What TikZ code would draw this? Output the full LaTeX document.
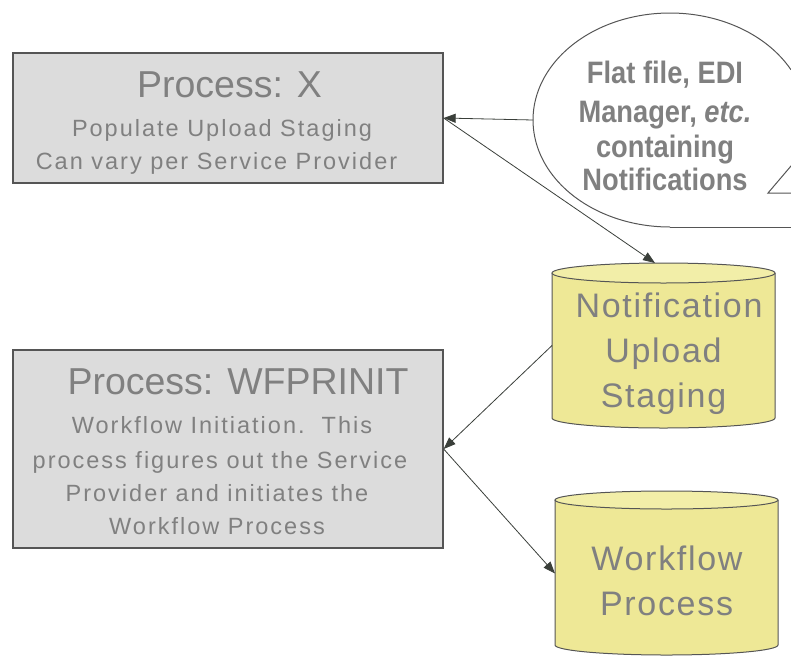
\documentclass[tikz,border=0pt]{standalone}
\usepackage{fontspec}
\setmainfont{Liberation Sans}
\newfontfamily\subfont{Liberation Sans}[LetterSpace=8.5]
\newfontfamily\cylfont{Liberation Sans}[LetterSpace=5]
\newfontfamily\callfont{Liberation Sans}[FakeStretch=0.88]
\usetikzlibrary{arrows.meta,calc,shapes.geometric}
\definecolor{boxfill}{HTML}{DCDCDC}
\definecolor{edgec}{HTML}{555555}
\definecolor{txt}{HTML}{808080}
\definecolor{cylfill}{HTML}{EEE896}
\definecolor{cyltop}{HTML}{F2EEA8}
\definecolor{arr}{HTML}{3A3F3A}
\begin{document}
\begin{tikzpicture}[x=1pt,y=-1pt,
  procbox/.style={draw=edgec, line width=1.3pt, fill=boxfill, inner sep=0pt},
  holder/.style={inner sep=0pt, outer sep=0pt},
  title/.style={anchor=base, inner sep=0pt, text=txt, font=\fontsize{37.5}{40}\selectfont},
  sub/.style={anchor=base, inner sep=0pt, text=txt, font=\subfont\fontsize{23.5}{26}\selectfont},
  cyltext/.style={anchor=base, inner sep=0pt, text=txt, font=\cylfont\fontsize{34}{38}\selectfont},
  calltext/.style={anchor=base, inner sep=0pt, text=txt, font=\callfont\bfseries\fontsize{31}{34}\selectfont},
  conn/.style={draw=arr, line width=0.8pt, -{Triangle[length=12pt,width=9pt]}},
  outline/.style={draw=edgec, line width=1pt}
]
\useasboundingbox (0,0) rectangle (791,656);
\clip (0,0) rectangle (791,656);

% process boxes
\node[procbox, minimum width=430pt, minimum height=130pt] (boxX) at (228,118) {};
\node[procbox, minimum width=430pt, minimum height=198pt] (boxW) at (228,449) {};

\node[title] (tX) at (229.5,97) {Process: X};
\node[sub] (tX1) at (222,136.5) {Populate Upload Staging};
\node[sub] (tX2) at (216.5,169.5) {Can vary per Service Provider};

\node[title] (tW) at (238,394) {Process: WFPRINIT};
\node[sub] (tW1) at (222,433) {Workflow Initiation.~~This};
\node[sub] (tW2) at (220,468) {process figures out the Service};
\node[sub] (tW3) at (217,501) {Provider and initiates the};
\node[sub] (tW4) at (217,534) {Workflow Process};

% callout
\node[ellipse, holder, minimum width=274pt, minimum height=214pt] (callout) at (670,120) {};
\draw[outline] plot[variable=\t, domain=90:332, samples=120, smooth] ({670+137*cos(\t)},{120+107*sin(\t)});
\draw[outline] (670,227) -- (800,227);
\draw[outline] (800,193) -- (768,193) -- (800,155.4);
\node[calltext] (c1) at (665,83) {Flat file, EDI};
\node[calltext] (c2) at (665,122) {Manager, \textit{etc.}};
\node[calltext] (c3) at (665,157) {containing};
\node[calltext] (c4) at (665,190) {Notifications};

% cylinder A
\fill[cylfill] (552,273) -- (552,418) arc[start angle=180,end angle=360,x radius=111.5pt,y radius=10pt] -- (775,273) -- cycle;
\draw[outline] (552,273) -- (552,418) arc[start angle=180,end angle=360,x radius=111.5pt,y radius=10pt] -- (775,273);
\draw[outline, fill=cyltop] (663.5,273) ellipse [x radius=111.5pt, y radius=10pt];
\node[holder, minimum width=223pt, minimum height=165pt] (cylA) at (663.5,345.5) {};
\node[cyltext] (n1) at (669,317) {Notification};
\node[cyltext] (n2) at (663.5,362) {Upload};
\node[cyltext] (n3) at (663.5,407) {Staging};

% cylinder B
\fill[cylfill] (555,500) -- (555,645) arc[start angle=180,end angle=360,x radius=111.5pt,y radius=10pt] -- (778,500) -- cycle;
\draw[outline] (555,500) -- (555,645) arc[start angle=180,end angle=360,x radius=111.5pt,y radius=10pt] -- (778,500);
\draw[outline, fill=cyltop] (666.5,500) ellipse [x radius=111.5pt, y radius=9pt];
\node[holder, minimum width=223pt, minimum height=164pt] (cylB) at (666.5,573.5) {};
\node[cyltext] (w1) at (667,570) {Workflow};
\node[cyltext] (w2) at (666.5,615) {Process};

% connectors
\draw[conn] (callout.west) -- (boxX.east);
\draw[conn] (boxX.east) -- ($(cylA.north)+(-8.5,0)$);
\draw[conn] (cylA.west) -- (boxW.east);
\draw[conn] (boxW.east) -- (cylB.west);
\end{tikzpicture}
\end{document}
